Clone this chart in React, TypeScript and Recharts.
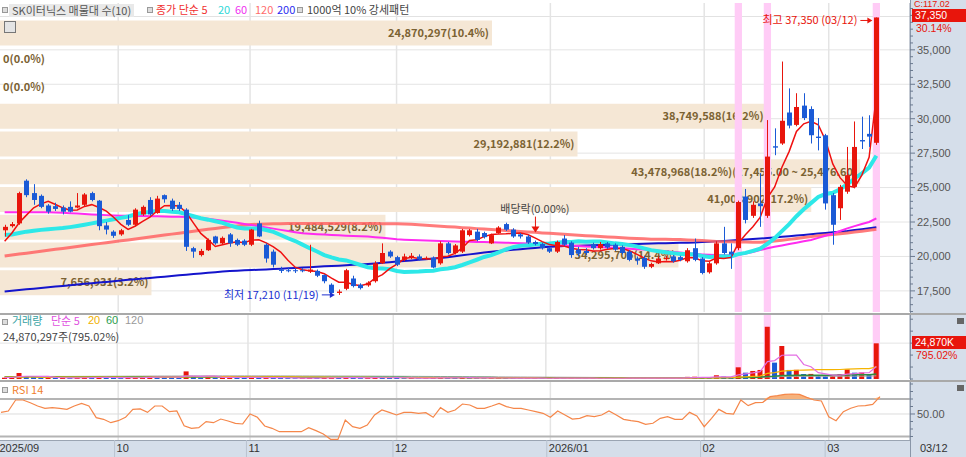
import React from "react";
import {
  Area,
  Bar,
  Cell,
  ComposedChart,
  LabelList,
  Line,
  ReferenceArea,
  ReferenceDot,
  ReferenceLine,
  XAxis,
  YAxis,
} from "recharts";

// trading days shown, 2025/09/09 .. 2026/03/12
const dates = [
  "09/09", "09/10", "09/11", "09/12", "09/15", "09/16", "09/17", "09/18", "09/19", "09/22",
  "09/23", "09/24", "09/25", "09/26", "09/29", "09/30",
  "10/01", "10/02", "10/10", "10/13", "10/14", "10/15", "10/16", "10/17", "10/20", "10/21",
  "10/22", "10/23", "10/24", "10/27", "10/28", "10/29", "10/30", "10/31",
  "11/03", "11/04", "11/05", "11/06", "11/07", "11/10", "11/11", "11/12", "11/13", "11/14",
  "11/17", "11/18", "11/19", "11/20", "11/21", "11/24", "11/25", "11/26", "11/27", "11/28",
  "12/01", "12/02", "12/03", "12/04", "12/05", "12/08", "12/09", "12/10", "12/11", "12/12",
  "12/15", "12/16", "12/17", "12/18", "12/19", "12/22", "12/23", "12/24", "12/26", "12/29", "12/30",
  "01/02", "01/05", "01/06", "01/07", "01/08", "01/09", "01/12", "01/13", "01/14", "01/15",
  "01/16", "01/19", "01/20", "01/21", "01/22", "01/23", "01/26", "01/27", "01/28", "01/29", "01/30",
  "02/02", "02/03", "02/04", "02/05", "02/06", "02/09", "02/10", "02/11", "02/12", "02/13",
  "02/19", "02/20", "02/23", "02/24", "02/25", "02/26", "02/27",
  "03/03", "03/04", "03/05", "03/06", "03/09", "03/10", "03/11", "03/12",
];

const opens = [
  21900, 22200, 22400, 25500, 24600, 24400, 23700, 23650, 23550, 23600,
  23550, 23750, 24600, 24050, 22250, 21800, 21600, 22650, 22300, 23050,
  24100, 23150, 24450, 24050, 23750, 23400, 20600, 20100, 20450, 21450,
  20950, 21600, 21200, 21150, 20850, 22400, 20850, 20350, 19050, 19000,
  19000, 19000, 18900, 18950, 18650, 17950, 17350, 17650, 18400, 17950,
  17900, 18200, 19500, 20350, 19950, 19750, 19900, 20000, 19850, 19900,
  19500, 20950, 20250, 20350, 21550, 21800, 21700, 20950, 21700, 22350,
  21950, 21600, 21450, 21050, 20900, 20600, 20350, 21300, 21000, 20500,
  20400, 20900, 20600, 20950, 20850, 20700, 20350, 19850, 19900, 19250,
  19500, 19800, 20000, 19950, 19650, 20600, 19850, 18850, 19500, 20950,
  20350, 20600, 24350, 22950, 23850, 22950, 28000, 28200, 30450, 29550,
  30950, 30700, 28700, 28800, 24450, 23500, 24700, 25050, 28450, 28900,
  28250,
];
const highs = [
  22300, 22500, 24700, 25600, 25250, 24500, 23800, 23900, 23700, 24000,
  24600, 24600, 24700, 24100, 22500, 21900, 22000, 23000, 23500, 23700,
  24300, 24400, 24500, 24200, 23950, 23500, 20700, 20550, 21300, 21500,
  21450, 21700, 21300, 21250, 22000, 22600, 20950, 20500, 19250, 19200,
  19150, 19150, 20850, 19050, 18700, 18050, 17600, 19100, 18600, 18050,
  18200, 19650, 20950, 20450, 20050, 20200, 20250, 20150, 20000, 20000,
  21100, 21050, 20900, 22000, 22000, 22000, 21800, 21650, 22200, 22450,
  22050, 21700, 21550, 21150, 21000, 20700, 21150, 21550, 21100, 20700,
  20600, 21000, 21050, 21050, 20950, 20800, 20450, 20000, 20050, 19550,
  20000, 20050, 20100, 20050, 20600, 21300, 19950, 19600, 21100, 22150,
  20950, 24050, 24900, 24000, 26050, 29900, 29300, 34150, 32200, 31850,
  31850, 30900, 30050, 28900, 24600, 25200, 27950, 29800, 30150, 30250,
  37350,
];
const lows = [
  21450, 22100, 22300, 24300, 23750, 23500, 23100, 23300, 23050, 23200,
  23500, 23650, 24000, 21900, 21600, 21350, 21500, 22200, 22200, 22950,
  22950, 23100, 23900, 23300, 23300, 20400, 19900, 20000, 20400, 20850,
  20900, 20700, 20750, 20750, 20750, 21400, 19550, 19200, 18800, 18850,
  18800, 18850, 18800, 18500, 18050, 17250, 17210, 17550, 17750, 17600,
  17800, 18100, 19450, 19900, 19300, 19650, 19800, 19700, 19750, 19150,
  19400, 20150, 20150, 20250, 21450, 21100, 21300, 20900, 21650, 21850,
  21350, 21300, 20900, 20800, 20500, 20250, 20250, 20750, 19900, 20000,
  20100, 20500, 20500, 20550, 20400, 20150, 19650, 19400, 19100, 19150,
  19450, 19700, 19550, 19650, 19550, 19650, 18700, 18750, 19400, 20150,
  19100, 20450, 22400, 22800, 22150, 22800, 27350, 28100, 29300, 29450,
  29900, 28200, 27700, 23400, 20850, 22650, 24550, 24950, 27800, 27950,
  28100,
];
const closes = [
  22150, 22350, 24600, 24450, 24100, 23600, 23250, 23450, 23250, 23250,
  23700, 24500, 24100, 22200, 21950, 21500, 21900, 22300, 23400, 23600,
  23050, 24200, 24150, 23450, 23450, 20700, 20350, 20400, 21200, 20950,
  21350, 20950, 20850, 20850, 21950, 21450, 19850, 19400, 18950, 18950,
  18950, 18950, 19050, 18600, 18200, 17350, 17450, 19000, 17850, 17700,
  18100, 19500, 20250, 20000, 19400, 20000, 20050, 19800, 19900, 19200,
  20950, 20250, 20800, 21900, 21900, 21200, 21400, 21550, 22100, 21950,
  21450, 21450, 21000, 20900, 20600, 20350, 21050, 20850, 20100, 20200,
  20250, 20600, 20900, 20650, 20500, 20250, 19750, 19700, 19250, 19450,
  19850, 19900, 19650, 19750, 20450, 19750, 18800, 19500, 20950, 20250,
  20150, 23950, 22650, 23750, 23650, 27250, 27900, 29850, 29500, 30850,
  30050, 28800, 28600, 23850, 22300, 25050, 25900, 27950, 28350, 28700,
  37350,
];

const ma5 = [
  21100, 21700, 22450, 23000, 23530, 23820, 24000, 23770, 23530, 23360,
  23380, 23630, 23760, 23550, 23290, 22850, 22330, 21970, 22210, 22540,
  22850, 23310, 23680, 23690, 23660, 23190, 22420, 21670, 21220, 20720,
  20850, 20970, 21060, 20990, 21190, 21210, 20990, 20700, 20320, 19720,
  19220, 19040, 18970, 18900, 18750, 18430, 18130, 18120, 17970, 17870,
  18020, 18430, 18680, 19110, 19450, 19830, 19940, 19850, 19830, 19790,
  19980, 20020, 20220, 20620, 21160, 21210, 21440, 21590, 21630, 21640,
  21690, 21700, 21590, 21350, 21080, 20860, 20780, 20750, 20590, 20510,
  20490, 20400, 20410, 20520, 20580, 20580, 20410, 20170, 19890, 19680,
  19600, 19630, 19620, 19720, 19920, 19900, 19680, 19650, 19890, 19850,
  19930, 20960, 21590, 22150, 22830, 24250, 25040, 26480, 27630, 29070,
  29630, 29810, 29560, 28430, 26720, 25720, 25140, 25010, 25910, 27190,
  31650,
];
const ma20 = [
  21550, 21600, 21700, 21800, 21870, 21930, 21980, 22020, 22060, 22130,
  22210, 22300, 22400, 22500, 22600, 22700, 22800, 22900, 23050, 23180,
  23230, 23320, 23300, 23250, 23210, 23070, 22920, 22770, 22670, 22550,
  22440, 22260, 22100, 22030, 22030, 22030, 21920, 21780, 21560, 21320,
  21120, 20860, 20600, 20360, 20100, 19930, 19780, 19710, 19550, 19380,
  19220, 19150, 19120, 19080, 18950, 18880, 18890, 18910, 18950, 18970,
  19070, 19130, 19220, 19380, 19570, 19760, 19960, 20090, 20300, 20510,
  20680, 20780, 20810, 20860, 20920, 20940, 20990, 21040, 21050, 21100,
  21060, 21080, 21090, 21020, 20950, 20910, 20820, 20730, 20590, 20460,
  20380, 20310, 20240, 20180, 20170, 20140, 20030, 19960, 20000, 20010,
  20000, 20170, 20260, 20410, 20570, 20920, 21330, 21840, 22350, 22920,
  23430, 23870, 24320, 24530, 24620, 24880, 25240, 25660, 26030, 26450,
  27310,
];
const ma60 = [
  23210, 23210, 23210, 23210, 23210, 23200, 23200, 23190, 23170, 23140,
  23110, 23080, 23050, 23020, 23000, 22980, 22960, 22950, 22940, 22930,
  22920, 22910, 22900, 22890, 22880, 22860, 22830, 22790, 22730, 22670,
  22600, 22520, 22440, 22360, 22280, 22200, 22110, 22020, 21930, 21840,
  21760, 21690, 21650, 21620, 21590, 21560, 21530, 21510, 21490, 21470,
  21440, 21400, 21350, 21300, 21250, 21220, 21200, 21180, 21160, 21140,
  21120, 21100, 21090, 21070, 21060, 21050, 21040, 21030, 21020, 21000,
  20980, 20960, 20940, 20910, 20880, 20850, 20830, 20800, 20780, 20750,
  20730, 20700, 20680, 20650, 20620, 20590, 20560, 20530, 20500, 20460,
  20420, 20380, 20330, 20280, 20230, 20190, 20150, 20120, 20100, 20090,
  20090, 20130, 20220, 20330, 20460, 20590, 20700, 20800, 20900, 21000,
  21100, 21190, 21350, 21500, 21650, 21850, 22040, 22200, 22350, 22500,
  22770,
];
const ma120 = [
  20040, 20110, 20180, 20240, 20310, 20380, 20450, 20520, 20580, 20650,
  20720, 20790, 20860, 20930, 21000, 21070, 21140, 21200, 21270, 21340,
  21410, 21480, 21550, 21620, 21690, 21760, 21830, 21900, 21970, 22030,
  22100, 22160, 22220, 22270, 22320, 22340, 22360, 22370, 22380, 22390,
  22395, 22400, 22400, 22400, 22400, 22400, 22400, 22400, 22400, 22400,
  22395, 22390, 22380, 22370, 22365, 22360, 22330, 22300, 22260, 22230,
  22190, 22160, 22130, 22090, 22060, 22020, 21990, 21950, 21920, 21890,
  21850, 21820, 21780, 21750, 21710, 21680, 21650, 21610, 21580, 21540,
  21510, 21480, 21440, 21410, 21390, 21360, 21330, 21300, 21280, 21250,
  21245, 21240, 21235, 21230, 21200, 21170, 21150, 21120, 21090, 21070,
  21060, 21050, 21040, 21035, 21030, 21070, 21120, 21180, 21240, 21310,
  21370, 21440, 21500, 21550, 21600, 21650, 21710, 21770, 21830, 21900,
  21970,
];
const ma200 = [
  17460, 17510, 17560, 17610, 17660, 17710, 17760, 17810, 17860, 17910,
  17960, 18010, 18060, 18100, 18150, 18200, 18250, 18300, 18340, 18390,
  18440, 18490, 18530, 18580, 18630, 18680, 18720, 18770, 18820, 18860,
  18910, 18940, 18960, 18990, 19010, 19040, 19060, 19090, 19110, 19140,
  19160, 19190, 19220, 19250, 19280, 19310, 19330, 19360, 19390, 19420,
  19450, 19490, 19540, 19580, 19630, 19670, 19710, 19760, 19800, 19850,
  19890, 19950, 20020, 20080, 20150, 20210, 20280, 20340, 20400, 20440,
  20490, 20530, 20580, 20620, 20670, 20710, 20730, 20750, 20760, 20780,
  20800, 20810, 20830, 20850, 20860, 20880, 20890, 20910, 20920, 20940,
  20950, 20960, 20970, 20990, 21000, 21010, 21040, 21070, 21100, 21130,
  21160, 21190, 21230, 21270, 21300, 21340, 21380, 21430, 21470, 21520,
  21560, 21610, 21660, 21710, 21750, 21800, 21850, 21920, 21980, 22050,
  22120,
];

// volume, thousand shares
const volumes = [
  900, 1100, 4200, 2100, 1200, 800, 900, 700, 800, 650,
  900, 1300, 900, 1500, 800, 700, 650, 900, 1100, 1300,
  2000, 1500, 1100, 1000, 800, 5300, 1600, 900, 1200, 800,
  900, 2000, 900, 700, 1100, 900, 1200, 1000, 700, 600,
  500, 550, 900, 700, 800, 1100, 900, 1300, 800, 600,
  650, 1200, 1100, 800, 700, 600, 650, 500, 550, 700,
  1200, 800, 700, 1000, 800, 700, 600, 650, 800, 700,
  600, 500, 550, 600, 500, 550, 700, 600, 650, 500,
  450, 500, 600, 550, 500, 550, 700, 600, 750, 600,
  700, 650, 600, 700, 1500, 1600, 1000, 900, 2600, 1700,
  1200, 8150, 4400, 5600, 6300, 36400, 11400, 23000, 6300, 6400,
  3500, 3550, 2550, 2000, 2200, 3500, 6700, 4400, 4500, 3130,
  24870,
];
const volMa5 = [
  1000, 1050, 1700, 1900, 1900, 1880, 1840, 1140, 880, 770,
  790, 870, 910, 1050, 1080, 1040, 910, 910, 870, 930,
  1190, 1360, 1400, 1380, 1280, 1940, 1960, 1820, 1960, 1960,
  1080, 1160, 1160, 1060, 1120, 1120, 960, 980, 980, 880,
  800, 670, 650, 650, 690, 810, 880, 960, 980, 940,
  850, 910, 870, 870, 890, 880, 770, 650, 600, 600,
  720, 750, 790, 880, 900, 800, 760, 750, 710, 690,
  670, 650, 630, 590, 550, 540, 580, 590, 600, 600,
  580, 560, 540, 520, 520, 540, 580, 580, 620, 640,
  670, 660, 660, 650, 830, 1010, 1080, 1140, 1520, 1560,
  1480, 2910, 3610, 4210, 5130, 12170, 12820, 16540, 16680, 16700,
  10120, 8550, 4460, 3600, 2760, 2760, 3390, 3760, 4260, 4450,
  8720,
];
const volMa20 = [
  1300, 1300, 1350, 1380, 1380, 1370, 1360, 1340, 1320, 1300,
  1290, 1290, 1280, 1290, 1280, 1260, 1240, 1230, 1220, 1230,
  1290, 1310, 1320, 1320, 1310, 1530, 1560, 1570, 1590, 1580,
  1590, 1600, 1570, 1560, 1540, 1540, 1570, 1570, 1540, 1510,
  1440, 1400, 1390, 1380, 1370, 1160, 1120, 1140, 1100, 1090,
  1080, 1040, 1040, 1050, 1030, 1010, 990, 960, 950, 950,
  930, 900, 880, 870, 850, 830, 810, 790, 790, 790,
  770, 760, 740, 730, 700, 680, 680, 660, 650, 640,
  630, 620, 610, 600, 590, 580, 580, 580, 590, 590,
  600, 600, 600, 610, 650, 700, 720, 740, 830, 880,
  960, 1340, 1530, 1790, 2080, 3870, 4400, 5520, 5800, 6090,
  6230, 6380, 6470, 6500, 6540, 6630, 6920, 7090, 7190, 7260,
  8440,
];
const volMa60 = [
  1450, 1440, 1480, 1490, 1490, 1480, 1470, 1460, 1450, 1440,
  1430, 1420, 1410, 1410, 1400, 1390, 1380, 1370, 1360, 1360,
  1360, 1360, 1350, 1340, 1330, 1390, 1390, 1380, 1380, 1370,
  1370, 1380, 1370, 1360, 1350, 1340, 1340, 1330, 1320, 1310,
  1290, 1280, 1270, 1260, 1250, 1250, 1240, 1240, 1230, 1220,
  1210, 1200, 1190, 1180, 1160, 1150, 1130, 1120, 1100, 1080,
  1070, 1050, 1040, 1020, 1000, 990, 970, 960, 950, 940,
  930, 920, 900, 890, 880, 870, 860, 850, 840, 830,
  820, 810, 800, 790, 780, 770, 760, 760, 750, 750,
  750, 750, 740, 740, 750, 770, 780, 790, 820, 840,
  850, 980, 1050, 1130, 1220, 1820, 2000, 2370, 2460, 2550,
  2590, 2630, 2660, 2680, 2700, 2750, 2850, 2910, 2970, 3000,
  3400,
];
const volMa120 = [
  1700, 1710, 1740, 1750, 1760, 1770, 1780, 1790, 1800, 1810,
  1830, 1850, 1870, 1890, 1910, 1930, 1950, 1970, 1990, 2010,
  2040, 2060, 2080, 2090, 2100, 2150, 2160, 2170, 2180, 2190,
  2190, 2200, 2200, 2200, 2200, 2190, 2190, 2180, 2170, 2160,
  2150, 2140, 2130, 2120, 2110, 2100, 2090, 2080, 2060, 2040,
  2020, 2000, 1980, 1950, 1920, 1890, 1860, 1830, 1800, 1770,
  1740, 1710, 1680, 1650, 1620, 1590, 1560, 1530, 1500, 1470,
  1440, 1410, 1380, 1350, 1320, 1290, 1260, 1230, 1200, 1170,
  1140, 1110, 1080, 1060, 1040, 1020, 1000, 990, 980, 970,
  960, 950, 940, 935, 940, 945, 950, 955, 965, 975,
  980, 1040, 1070, 1110, 1160, 1450, 1540, 1720, 1760, 1800,
  1820, 1840, 1850, 1860, 1870, 1890, 1930, 1960, 1990, 2010,
  2210,
];

const rsi14 = [
  52.2, 54, 68.7, 68.7, 65, 60.7, 57.6, 58.5, 57.6, 56.2,
  60.7, 64.2, 60.7, 45.1, 42.9, 38.4, 41.1, 45.6, 56.2, 56.7,
  52.2, 60.7, 60.7, 53.1, 54, 34.4, 30.9, 31.8, 39.8, 38.4,
  43.3, 40.7, 37.6, 36.7, 50, 45.6, 34, 30.9, 26.4, 26.4,
  26.4, 26.4, 31.8, 27.8, 23.3, 16.2, 16.2, 42, 33.1, 30.9,
  35.3, 48.7, 55.3, 52.2, 48.7, 52.2, 52.2, 50.9, 51.8, 45.6,
  58.5, 52.2, 55.3, 63.3, 62, 57.6, 57.6, 60.7, 64.2, 59.8,
  57.6, 57.6, 55.3, 53.1, 50.9, 45.6, 54, 48.7, 43.3, 44.2,
  47.8, 46.4, 48.7, 54, 48.7, 42.9, 41.1, 39.8, 36.2, 37.6,
  44.2, 46.4, 42.9, 42.9, 52.2, 47.3, 33.1, 44.2, 56.2, 50.9,
  50, 68.7, 61.1, 65.1, 65.6, 73.1, 74.5, 76.2, 76.7, 76.2,
  72.2, 68.7, 67.3, 46.4, 41.1, 53.1, 57.6, 60.7, 61.1, 62.9,
  73.1,
];

// volume profile (매물대), 10 price buckets
const vpLow = [17210, 19224, 21238, 23252, 25266, 27280, 29294, 31308, 33322, 35336];
const vpHigh = [19224, 21238, 23252, 25266, 27280, 29294, 31308, 33322, 35336, 37350];
const vpVolume = [7656931, 34295705, 19484529, 41008902, 43478968, 29192881, 38749588, 0, 0, 24870297];
const vpLabels = [
  "7,656,931(3.2%)",
  "34,295,705(14.4%)",
  "19,484,529(8.2%)",
  "41,008,902(17.2%)",
  "43,478,968(18.2%)(27,455.00 ~ 25,476.60)",
  "29,192,881(12.2%)",
  "38,749,588(16.2%)",
  "0(0.0%)",
  "0(0.0%)",
  "24,870,297(10.4%)",
];

const patternDates = ["02/09", "02/13", "03/12"];
const monthStarts = ["10/01", "11/03", "12/01", "01/02", "02/02", "03/03"];
const axisTickDates = ["09/09", "10/01", "11/03", "12/01", "01/02", "02/02", "03/03", "03/12"];
const axisTickLabels = ["2025/09", "10", "11", "12", "2026/01", "02", "03", "03/12"];

const priceLabelTicks = [17500, 20000, 22500, 25000, 27500, 30000, 32500, 35000];
const priceMinorTicks = [
  16000, 16500, 17000, 17500, 18000, 18500, 19000, 19500, 20000, 20500, 21000, 21500,
  22000, 22500, 23000, 23500, 24000, 24500, 25000, 25500, 26000, 26500, 27000, 27500,
  28000, 28500, 29000, 29500, 30000, 30500, 31000, 31500, 32000, 32500, 33000, 33500,
  34000, 34500, 35000, 35500, 36000, 36500, 37000, 37500, 38000,
];
const volTicks = [0, 8333, 16667, 25000, 33333, 41667];
const rsiTicks = [20, 30, 40, 50, 60, 70, 80, 90];

const exDivDate = "12/29";
const highNote = "최고 37,350 (03/12)";
const lowNote = "최저 17,210 (11/19)";
const exDivNote = "배당락(0.00%)";

const RED = "#e8150c";
const BLUE = "#1a5ad6";
const GRID = "#e4e4e4";
const AXIS_BG = "#d5deea";
const BAND = "#f5e7d5";
const BAND_TEXT = "#7b6232";
const FONT = '"Noto Sans CJK KR", "Noto Sans", sans-serif';
const NUM_FONT = '"Liberation Sans", "DejaVu Sans", sans-serif';
const PRICE_DOMAIN: [number, number] = [15967, 38400];
const VP_MAX = 46000000;

type Row = {
  date: string; o: number; h: number; l: number; c: number;
  ma5: number; ma20: number; ma60: number; ma120: number; ma200: number;
  v: number; vma5: number; vma20: number; vma60: number; vma120: number; rsi: number;
};

const rows: Row[] = dates.map((date, i) => ({
  date, o: opens[i], h: highs[i], l: lows[i], c: closes[i],
  ma5: ma5[i], ma20: ma20[i], ma60: ma60[i], ma120: ma120[i], ma200: ma200[i],
  v: volumes[i], vma5: volMa5[i], vma20: volMa20[i], vma60: volMa60[i], vma120: volMa120[i],
  rsi: rsi14[i],
}));

const vpRows = vpLow.map((lo, k) => ({ mid: (lo + vpHigh[k]) / 2, vol: vpVolume[k], label: vpLabels[k] }));

const hiIdx = highs.indexOf(Math.max(...highs));
const loIdx = lows.indexOf(Math.min(...lows));
const exIdx = dates.indexOf(exDivDate);

function CandleShape(props: any) {
  const { x, y, width, height, payload } = props;
  if (x == null || !payload) return null;
  const top = Math.min(y, y + height);
  const h = Math.abs(height);
  const range = payload.h - payload.l;
  const k = range > 0 ? h / range : 0;
  const color = payload.c > payload.o ? RED : BLUE;
  const c = Math.round(x + width / 2);
  const bodyTop = top + (payload.h - Math.max(payload.o, payload.c)) * k;
  const bodyH = Math.max(1, Math.abs(payload.c - payload.o) * k);
  return (
    <g>
      <line x1={c + 0.5} x2={c + 0.5} y1={top} y2={top + h} stroke={color} strokeWidth={1} />
      <rect x={c - 2} y={bodyTop} width={5} height={bodyH} fill={color} />
    </g>
  );
}

// label of a profile band, right-aligned inside it (empty buckets are labelled in the price chart)
function VpLabel(props: any) {
  const { x, y, width, height, value } = props;
  if (x == null || !(width > 1)) return null;
  return (
    <text x={x + width - 3} y={y + height / 2} dy="0.35em" textAnchor="end" fontSize={11} fontWeight={700} fill={BAND_TEXT}>
      {value}
    </text>
  );
}

function PriceTick(props: any) {
  const { x, y, payload } = props;
  const v = payload.value as number;
  const major = priceLabelTicks.includes(v);
  return (
    <g>
      <line x1={x} x2={x + (major ? 5 : 3)} y1={y} y2={y} stroke="#6b7a90" />
      {major && (
        <text x={x + 7} y={y} dy="0.35em" fontSize={11} fill="#555" fontFamily={NUM_FONT}>
          {v.toLocaleString("en-US")}
        </text>
      )}
    </g>
  );
}

function MinorTick(props: any) {
  const { x, y, payload } = props;
  const label = payload.value === 50 ? "50.00" : null;
  return (
    <g>
      <line x1={x} x2={x + (label ? 5 : 3)} y1={y} y2={y} stroke="#6b7a90" />
      {label && (
        <text x={x + 7} y={y} dy="0.35em" fontSize={11} fill="#555" fontFamily={NUM_FONT}>
          {label}
        </text>
      )}
    </g>
  );
}

function DateTick(props: any) {
  const { x, y, payload } = props;
  const k = axisTickDates.indexOf(payload.value);
  if (k < 0) return null;
  const first = k === 0;
  const last = k === axisTickDates.length - 1;
  const tx = first ? x - 1.6 : last ? x + 40 : x - 1.6;
  return (
    <g>
      {!first && !last && <line x1={x - 3.6} x2={x - 3.6} y1={y} y2={y + 17} stroke="#b9c3d0" />}
      <text x={tx} y={y + 8.5} dy="0.35em" fontSize={11} fill="#333" fontFamily={NUM_FONT}>
        {axisTickLabels[k]}
      </text>
    </g>
  );
}

function HighNote(props: any) {
  const { cx, cy } = props;
  if (cx == null) return null;
  const ty = cy + 3;
  return (
    <g>
      <text x={cx - 19} y={ty} dy="0.35em" textAnchor="end" fontSize={11} fill={RED}>{highNote}</text>
      <line x1={cx - 16} x2={cx - 7} y1={ty} y2={ty} stroke={RED} />
      <path d={`M${cx - 4} ${ty} l-5 -3 v6 z`} fill={RED} />
    </g>
  );
}

function LowNote(props: any) {
  const { cx, cy } = props;
  if (cx == null) return null;
  return (
    <g>
      <text x={cx - 20} y={cy} dy="0.35em" textAnchor="end" fontSize={11} fill="#2030d0">{lowNote}</text>
      <line x1={cx - 17} x2={cx - 8} y1={cy} y2={cy} stroke="#2030d0" />
      <path d={`M${cx - 4} ${cy} l-5 -3 v6 z`} fill="#2030d0" />
    </g>
  );
}

function ExDivNote(props: any) {
  const { cx, cy } = props;
  if (cx == null) return null;
  return (
    <g>
      <text x={cx} y={cy - 31} dy="0.35em" textAnchor="middle" fontSize={11} fill="#444">{exDivNote}</text>
      <line x1={cx + 0.5} x2={cx + 0.5} y1={cy - 24} y2={cy - 13} stroke={RED} />
      <path d={`M${cx + 0.5} ${cy - 8} l-4 -6 h8 z`} fill={RED} />
    </g>
  );
}

const box = (left: number, top: number): React.CSSProperties => ({
  position: "absolute", left, top, width: 4, height: 4, border: "1px solid #999", background: "#ddd",
});
const txt = (left: number, top: number, color: string, extra: React.CSSProperties = {}): React.CSSProperties => ({
  position: "absolute", left, top, color, fontSize: 11, lineHeight: "11px", whiteSpace: "nowrap", ...extra,
});
const num = (left: number, top: number, color: string, extra: React.CSSProperties = {}): React.CSSProperties =>
  txt(left, top, color, { fontFamily: NUM_FONT, fontSize: 10.5, ...extra });
const layer = (top: number): React.CSSProperties => ({ position: "absolute", left: 0, top });

export default function App() {
  return (
    <div style={{ position: "absolute", left: 0, top: 0, width: 966, height: 457, overflow: "hidden", background: "#fff", fontFamily: FONT }}>
      {/* axis backgrounds */}
      <div style={{ position: "absolute", left: 910, top: 0, width: 56, height: 457, background: AXIS_BG, borderLeft: "1px solid #8a96a8" }} />
      <div style={{ position: "absolute", left: 0, top: 440, width: 910, height: 17, background: AXIS_BG, borderTop: "1px solid #9aa4b2" }} />
      <div style={{ position: "absolute", left: 0, top: 16, width: 910, height: 1, background: "#e2e2e2" }} />

      {/* price panel grid */}
      <div style={layer(0)}>
        <ComposedChart width={966} height={313} data={rows} margin={{ top: 3, right: 56, bottom: 1, left: 0 }}>
          <XAxis dataKey="date" hide padding={{ left: 1, right: 30 }} />
          <YAxis hide domain={PRICE_DOMAIN} allowDataOverflow />
          <Line dataKey="c" stroke="none" dot={false} activeDot={false} isAnimationActive={false} />
          {priceLabelTicks.map((v) => (
            <ReferenceLine key={`gy${v}`} y={v} stroke={GRID} />
          ))}
          {monthStarts.map((d) => (
            <ReferenceLine key={`gx${d}`} x={d} position="start" stroke={GRID} strokeWidth={1.5} />
          ))}
        </ComposedChart>
      </div>

      {/* volume profile bands */}
      <div style={layer(1.5)}>
        <ComposedChart layout="vertical" width={966} height={313} data={vpRows} margin={{ top: 3, right: 56, bottom: 1, left: 0 }}>
          <XAxis type="number" domain={[0, VP_MAX]} hide allowDataOverflow />
          <YAxis type="number" dataKey="mid" domain={PRICE_DOMAIN} hide reversed allowDataOverflow />
          <Bar dataKey="vol" barSize={25} fill={BAND} isAnimationActive={false}>
            <LabelList dataKey="label" content={VpLabel} />
          </Bar>
        </ComposedChart>
      </div>

      {/* price panel */}
      <div style={layer(0)}>
        <ComposedChart width={966} height={313} data={rows} margin={{ top: 3, right: 0, bottom: 1, left: 0 }}>
          <XAxis dataKey="date" hide padding={{ left: 1, right: 30 }} />
          <YAxis
            orientation="right"
            width={56}
            domain={PRICE_DOMAIN}
            allowDataOverflow
            ticks={priceMinorTicks}
            interval={0}
            tick={PriceTick}
            tickLine={false}
            tickSize={0}
            tickMargin={0}
            axisLine={{ stroke: "#8a96a8" }}
          />
          {vpVolume.map((vol, k) =>
            vol > 0 ? null : (
              <ReferenceLine
                key={`vp${k}`}
                y={(vpLow[k] + vpHigh[k]) / 2}
                stroke="none"
                label={{ value: vpLabels[k], position: "insideLeft", offset: 3, fill: BAND_TEXT, fontSize: 11, fontWeight: 700 }}
              />
            )
          )}
          {patternDates.map((d) => (
            <ReferenceArea key={`pp${d}`} x1={d} x2={d} fill="#ffccf6" fillOpacity={1} stroke="none" zIndex={-30} />
          ))}
          <Line dataKey="ma200" stroke="#1414cc" strokeWidth={2} dot={false} activeDot={false} isAnimationActive={false} zIndex={250} />
          <Line dataKey="ma120" stroke="#ff6464" strokeOpacity={0.85} strokeWidth={3} dot={false} activeDot={false} isAnimationActive={false} zIndex={250} />
          <Line dataKey="ma60" stroke="#ff2cf0" strokeWidth={2} dot={false} activeDot={false} isAnimationActive={false} zIndex={250} />
          <Line dataKey="ma20" stroke="#2de8e8" strokeWidth={4} dot={false} activeDot={false} isAnimationActive={false} zIndex={250} />
          <Line dataKey="ma5" stroke="#f01010" strokeWidth={1.5} dot={false} activeDot={false} isAnimationActive={false} zIndex={250} />
          <Bar dataKey={(r: Row) => [r.l, r.h]} barSize={5} shape={CandleShape} isAnimationActive={false} />
          <ReferenceDot x={dates[hiIdx]} y={highs[hiIdx]} r={0} shape={HighNote} ifOverflow="visible" />
          <ReferenceDot x={dates[loIdx]} y={lows[loIdx]} r={0} shape={LowNote} ifOverflow="visible" />
          <ReferenceDot x={dates[exIdx]} y={highs[exIdx]} r={0} shape={ExDivNote} ifOverflow="visible" />
        </ComposedChart>
      </div>

      {/* volume panel */}
      <div style={layer(313)}>
        <ComposedChart width={966} height={68} data={rows} margin={{ top: 2, right: 0, bottom: 2, left: 0 }}>
          <XAxis dataKey="date" hide padding={{ left: 1, right: 30 }} />
          <YAxis
            orientation="right"
            width={56}
            domain={[0, 44600]}
            allowDataOverflow
            ticks={volTicks}
            interval={0}
            tick={MinorTick}
            tickLine={false}
            tickSize={0}
            tickMargin={0}
            axisLine={{ stroke: "#8a96a8" }}
          />
          <ReferenceLine y={25000} stroke={GRID} zIndex={-60} />
          {monthStarts.map((d) => (
            <ReferenceLine key={`vx${d}`} x={d} position="start" stroke={GRID} strokeWidth={1.5} zIndex={-60} />
          ))}
          {patternDates.map((d) => (
            <ReferenceArea key={`vpp${d}`} x1={d} x2={d} fill="#ffccf6" fillOpacity={1} stroke="none" zIndex={-30} />
          ))}
          <Bar dataKey="v" barSize={5} isAnimationActive={false}>
            {rows.map((r, i) => (
              <Cell key={r.date} fill={i === 0 || r.v >= rows[i - 1].v ? RED : BLUE} />
            ))}
          </Bar>
          <Line dataKey="vma120" stroke="#a8a8a8" strokeWidth={1} dot={false} activeDot={false} isAnimationActive={false} />
          <Line dataKey="vma60" stroke="#2e8e40" strokeWidth={1.5} dot={false} activeDot={false} isAnimationActive={false} />
          <Line dataKey="vma20" stroke="#f5b400" strokeWidth={1.2} dot={false} activeDot={false} isAnimationActive={false} />
          <Line dataKey="vma5" stroke="#e36ee3" strokeWidth={1.2} dot={false} activeDot={false} isAnimationActive={false} />
        </ComposedChart>
      </div>

      {/* RSI panel with date axis */}
      <div style={layer(381)}>
        <ComposedChart width={966} height={76} data={rows} margin={{ top: 1, right: 0, bottom: 0, left: 0 }}>
          <XAxis
            dataKey="date"
            height={17}
            padding={{ left: 1, right: 30 }}
            ticks={axisTickDates}
            interval={0}
            tick={DateTick}
            tickLine={false}
            tickSize={0}
            tickMargin={0}
            axisLine={false}
          />
          <YAxis
            orientation="right"
            width={56}
            domain={[15.33, 92.67]}
            allowDataOverflow
            ticks={rsiTicks}
            interval={0}
            tick={MinorTick}
            tickLine={false}
            tickSize={0}
            tickMargin={0}
            axisLine={{ stroke: "#8a96a8" }}
          />
          {monthStarts.map((d) => (
            <ReferenceLine key={`rx${d}`} x={d} position="start" stroke={GRID} strokeWidth={1.5} zIndex={-60} />
          ))}
          <ReferenceLine y={50} stroke="#dcdcdc" zIndex={-60} />
          <ReferenceLine y={70} stroke="#b4b4b4" strokeWidth={2} zIndex={-60} />
          <ReferenceLine y={20} stroke="#b4b4b4" strokeWidth={2} zIndex={-60} />
          {patternDates.map((d) => (
            <ReferenceArea key={`rp${d}`} x1={d} x2={d} fill="#ffccf6" fillOpacity={1} stroke="none" zIndex={-30} />
          ))}
          <Area
            dataKey={(r: Row) => [70, Math.max(70, r.rsi)]}
            stroke="none"
            fill="#f6b27c"
            fillOpacity={1}
            dot={false}
            activeDot={false}
            isAnimationActive={false}
          />
          <Line dataKey="rsi" stroke="#f5874a" strokeWidth={1.2} dot={false} activeDot={false} isAnimationActive={false} />
        </ComposedChart>
      </div>

      {/* panel separators */}
      <div style={{ position: "absolute", left: 0, top: 313, width: 966, height: 2, background: "#a9a9a9" }} />
      <div style={{ position: "absolute", left: 0, top: 380, width: 966, height: 2, background: "#a9a9a9" }} />

      {/* price legend */}
      <div style={box(2, 7)} />
      <div style={txt(9, 4, "#555", { background: "#e9e9e9", padding: "1px 3px" })}>SK이터닉스 매물대 수(10)</div>
      <div style={box(147, 7)} />
      <div style={txt(156, 4, "#f03030")}>종가 단순 5</div>
      <div style={txt(218, 4, "#2fd8d8")}>20</div>
      <div style={txt(235, 4, "#f030f0")}>60</div>
      <div style={txt(255, 4, "#ff6c6c")}>120</div>
      <div style={txt(277, 4, "#2c2cf0")}>200</div>
      <div style={box(297, 7)} />
      <div style={txt(307, 4, "#444")}>1000억 10% 강세패턴</div>
      <div style={{ position: "absolute", left: 4, top: 21, width: 10, height: 10, border: "1px solid #777", background: "#e4e4e4" }} />

      {/* volume legend */}
      <div style={box(2, 319)} />
      <div style={txt(12, 315, "#3aa3a3")}>거래량</div>
      <div style={txt(51, 315, "#e050e0")}>단순 5</div>
      <div style={num(88, 315, "#f0b000", { fontSize: 11 })}>20</div>
      <div style={num(106, 315, "#2e9e4e", { fontSize: 11 })}>60</div>
      <div style={num(125, 315, "#999", { fontSize: 11 })}>120</div>
      <div style={txt(3, 331, "#444")}>24,870,297주(795.02%)</div>

      {/* RSI legend */}
      <div style={box(2, 387)} />
      <div style={txt(12, 384, "#f08030")}>RSI 14</div>

      {/* right axis markers */}
      <div style={num(914, 0, RED, { fontSize: 9, lineHeight: "9px" })}>C:117.02</div>
      <div style={num(912, 9, "#fff", { width: 51, paddingLeft: 3, lineHeight: "13px", background: RED })}>37,350</div>
      <div style={num(916, 23, RED)}>30.14%</div>
      <div style={num(912, 336, "#fff", { width: 51, paddingLeft: 3, lineHeight: "13px", background: RED })}>24,870K</div>
      <div style={num(916, 350, RED)}>795.02%</div>
      <div style={{ position: "absolute", left: 957, top: 318, width: 7, height: 6, background: "#666" }} />
      <div style={{ position: "absolute", left: 957, top: 385, width: 7, height: 6, background: "#666" }} />
    </div>
  );
}
